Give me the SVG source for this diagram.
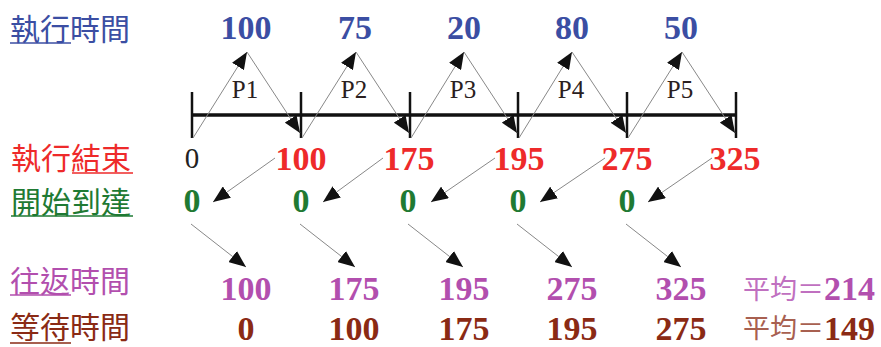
<svg xmlns="http://www.w3.org/2000/svg" width="881" height="347" viewBox="0 0 881 347">
<style>
.cjk{font-family:"Noto Sans CJK TC","Noto Sans CJK SC",sans-serif;font-size:30px}
.num{font-family:"Liberation Serif",serif;font-weight:bold;font-size:34px;text-anchor:middle}
.avg{font-family:"Noto Sans CJK TC","Noto Sans CJK SC",sans-serif;font-size:27px}
.avgn{font-family:"Liberation Serif",serif;font-weight:bold;font-size:34px}
.p{font-family:"Liberation Serif",serif;font-size:25px;text-anchor:middle;fill:#2a2020}
.blue{fill:#3b4ea3}.red{fill:#ee2a2a}.green{fill:#1f7a33}.purple{fill:#b24fae}.brown{fill:#8a2a14}
.thin{stroke:#888;stroke-width:1;fill:none}
.ul{stroke-width:1.5}
</style>
<defs>
<marker id="ah" markerUnits="userSpaceOnUse" markerWidth="17" markerHeight="14" refX="17" refY="7" orient="auto">
<path d="M0,0 L17,7 L0,14 z" fill="#111"/>
</marker>
</defs>

<g id="labels">
<text class="cjk blue" x="10" y="40">執行時間</text>
<line class="ul" x1="10" y1="43" x2="71" y2="43" stroke="#3b4ea3"/>
<text class="cjk red" x="11" y="169">執行結束</text>
<line class="ul" x1="72" y1="173" x2="133" y2="173" stroke="#ee2a2a"/>
<text class="cjk green" x="11" y="213">開始到達</text>
<line class="ul" x1="11" y1="216" x2="133" y2="216" stroke="#1f7a33"/>
<text class="cjk purple" x="10" y="292">往返時間</text>
<line class="ul" x1="10" y1="295" x2="71" y2="295" stroke="#b24fae"/>
<text class="cjk brown" x="10" y="338">等待時間</text>
<line class="ul" x1="10" y1="343" x2="71" y2="343" stroke="#8a2a14"/>
</g>

<g id="timeline">
<line x1="192" y1="115" x2="736" y2="115" stroke="#111" stroke-width="3.5"/>
<g stroke="#111" stroke-width="2.5">
<line x1="192" y1="92" x2="192" y2="138"/>
<line x1="301" y1="92" x2="301" y2="138"/>
<line x1="410" y1="92" x2="410" y2="138"/>
<line x1="518" y1="92" x2="518" y2="138"/>
<line x1="627" y1="92" x2="627" y2="138"/>
<line x1="736" y1="92" x2="736" y2="138"/>
</g>
<text class="p" x="245" y="98">P1</text>
<text class="p" x="354" y="98">P2</text>
<text class="p" x="463" y="98">P3</text>
<text class="p" x="571" y="98">P4</text>
<text class="p" x="680" y="98">P5</text>
</g>

<g id="burst">
<text class="num blue" x="246" y="39">100</text>
<text class="num blue" x="355" y="39">75</text>
<text class="num blue" x="464" y="39">20</text>
<text class="num blue" x="572" y="39">80</text>
<text class="num blue" x="681" y="39">50</text>
</g>

<g id="finish">
<text x="192" y="168" font-family="Liberation Serif,serif" font-size="29" text-anchor="middle" fill="#222">0</text>
<text class="num red" x="301" y="170">100</text>
<text class="num red" x="409" y="170">175</text>
<text class="num red" x="519" y="170">195</text>
<text class="num red" x="627" y="170">275</text>
<text class="num red" x="735" y="170">325</text>
</g>

<g id="arrival">
<text class="num green" x="192" y="212">0</text>
<text class="num green" x="301" y="212">0</text>
<text class="num green" x="408" y="212">0</text>
<text class="num green" x="518" y="212">0</text>
<text class="num green" x="627" y="212">0</text>
</g>

<g id="turnaround">
<text class="num purple" x="246" y="300">100</text>
<text class="num purple" x="354" y="300">175</text>
<text class="num purple" x="464" y="300">195</text>
<text class="num purple" x="572" y="300">275</text>
<text class="num purple" x="681" y="300">325</text>
<text x="743" y="299"><tspan class="avg" fill="#c070c0">平均＝</tspan><tspan class="avgn purple" dy="1">214</tspan></text>
</g>

<g id="waiting">
<text class="num brown" x="246" y="340">0</text>
<text class="num brown" x="354" y="340">100</text>
<text class="num brown" x="464" y="340">175</text>
<text class="num brown" x="572" y="340">195</text>
<text class="num brown" x="681" y="340">275</text>
<text x="743" y="338"><tspan class="avg" fill="#a86050">平均＝</tspan><tspan class="avgn brown" dy="2">149</tspan></text>
</g>

<g id="connectors">
<g class="thin" marker-end="url(#ah)">
<line x1="193" y1="138" x2="247" y2="52"/>
<line x1="247" y1="52" x2="300" y2="133"/>
<line x1="302" y1="138" x2="356" y2="52"/>
<line x1="356" y1="52" x2="409" y2="133"/>
<line x1="411" y1="138" x2="464" y2="52"/>
<line x1="464" y1="52" x2="517" y2="133"/>
<line x1="519" y1="138" x2="572" y2="52"/>
<line x1="572" y1="52" x2="626" y2="133"/>
<line x1="628" y1="138" x2="682" y2="52"/>
<line x1="682" y1="52" x2="735" y2="133"/>

<line x1="275" y1="158" x2="213" y2="202"/>
<line x1="383" y1="158" x2="323" y2="202"/>
<line x1="495" y1="158" x2="431" y2="202"/>
<line x1="605" y1="158" x2="540" y2="202"/>
<line x1="712" y1="158" x2="648" y2="202"/>

<line x1="191" y1="224" x2="246" y2="267"/>
<line x1="300" y1="224" x2="355" y2="267"/>
<line x1="408" y1="224" x2="463" y2="267"/>
<line x1="517" y1="224" x2="572" y2="267"/>
<line x1="626" y1="224" x2="681" y2="267"/>
</g>
</g>
</svg>
